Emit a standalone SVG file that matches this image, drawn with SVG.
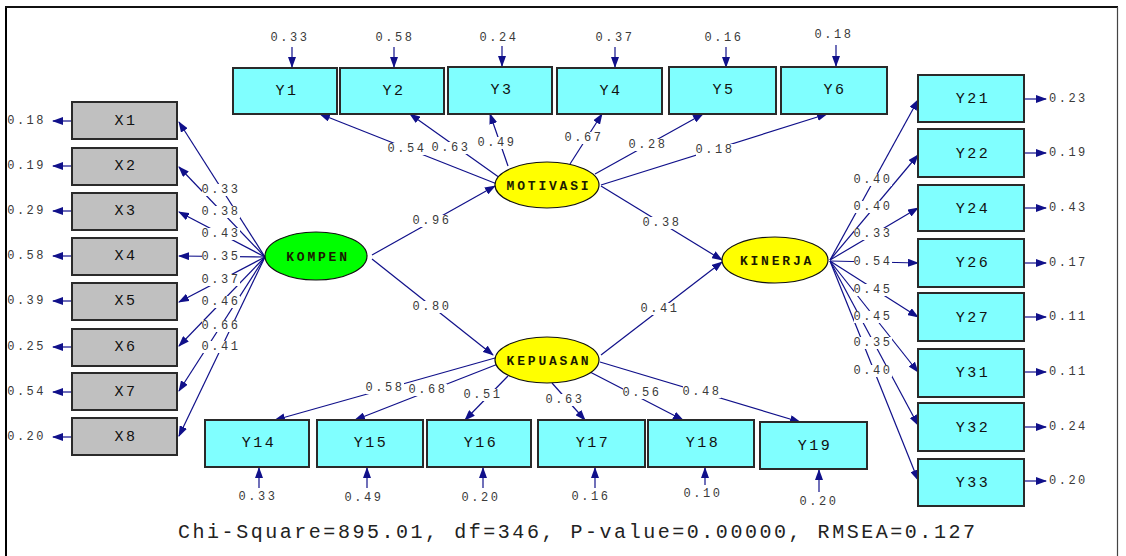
<svg xmlns="http://www.w3.org/2000/svg" width="1126" height="556" viewBox="0 0 1126 556">
<style>
.bx{fill:#80ffff;stroke:#2a2a2a;stroke-width:2}
.bg{fill:#c0c0c0;stroke:#2a2a2a;stroke-width:2}
.lt{font-family:"Liberation Mono",monospace;font-size:15px;letter-spacing:2.5px;fill:#111;text-anchor:middle;dominant-baseline:central}
.el{stroke:#111;stroke-width:1.2}
.et{font-family:"Liberation Mono",monospace;font-size:13px;font-weight:bold;letter-spacing:2.8px;fill:#1a1a00;text-anchor:middle;dominant-baseline:central}
.ln{stroke:#10108a;stroke-width:1.2;fill:none;marker-end:url(#ah)}
.nm{font-family:"Liberation Mono",monospace;font-size:12px;letter-spacing:2.5px;fill:#3a3a3a;text-anchor:middle;dominant-baseline:central}
.hb{fill:#fff}
.ev{font-family:"Liberation Mono",monospace;font-size:12px;letter-spacing:2.5px;fill:#3a3a3a;dominant-baseline:central}
</style>
<defs>
<marker id="ah" markerWidth="11" markerHeight="8" refX="10" refY="4" orient="auto" markerUnits="userSpaceOnUse"><path d="M0,0 L11,4 L0,8 z" fill="#10108a"/></marker>
</defs>
<rect width="1126" height="556" fill="#fff"/>

<g id="connectors">
<line class="ln" x1="265" y1="257" x2="179" y2="122"/>
<line class="ln" x1="265" y1="257" x2="179" y2="167"/>
<line class="ln" x1="265" y1="257" x2="179" y2="212"/>
<line class="ln" x1="265" y1="257" x2="179" y2="256"/>
<line class="ln" x1="265" y1="257" x2="179" y2="302"/>
<line class="ln" x1="265" y1="257" x2="179" y2="346"/>
<line class="ln" x1="265" y1="257" x2="179" y2="391"/>
<line class="ln" x1="265" y1="257" x2="179" y2="436"/>
<line class="ln" x1="372" y1="255" x2="495" y2="186"/>
<line class="ln" x1="372" y1="259" x2="493" y2="355"/>
<line class="ln" x1="601" y1="186" x2="722" y2="260"/>
<line class="ln" x1="601" y1="355" x2="722" y2="262"/>
<line class="ln" x1="497" y1="184" x2="320" y2="114"/>
<line class="ln" x1="500" y1="178" x2="410" y2="114"/>
<line class="ln" x1="508" y1="166" x2="490" y2="114"/>
<line class="ln" x1="570" y1="164" x2="602" y2="114"/>
<line class="ln" x1="595" y1="174" x2="703" y2="114"/>
<line class="ln" x1="601" y1="185" x2="827" y2="114"/>
<line class="ln" x1="495" y1="358" x2="275" y2="420"/>
<line class="ln" x1="498" y1="364" x2="355" y2="420"/>
<line class="ln" x1="508" y1="376" x2="465" y2="420"/>
<line class="ln" x1="552" y1="383" x2="585" y2="420"/>
<line class="ln" x1="590" y1="372" x2="683" y2="420"/>
<line class="ln" x1="600" y1="362" x2="800" y2="422"/>
<line class="ln" x1="830" y1="260" x2="918" y2="100"/>
<line class="ln" x1="830" y1="260" x2="918" y2="155"/>
<line class="ln" x1="830" y1="260" x2="918" y2="208"/>
<line class="ln" x1="830" y1="261" x2="918" y2="263"/>
<line class="ln" x1="830" y1="261" x2="918" y2="317"/>
<line class="ln" x1="830" y1="261" x2="918" y2="372"/>
<line class="ln" x1="830" y1="261" x2="918" y2="425"/>
<line class="ln" x1="830" y1="261" x2="918" y2="480"/>
<line class="ln" x1="72" y1="121" x2="53" y2="121"/>
<line class="ln" x1="72" y1="166" x2="53" y2="166"/>
<line class="ln" x1="72" y1="211" x2="53" y2="211"/>
<line class="ln" x1="72" y1="256" x2="53" y2="256"/>
<line class="ln" x1="72" y1="301" x2="53" y2="301"/>
<line class="ln" x1="72" y1="347" x2="53" y2="347"/>
<line class="ln" x1="72" y1="392" x2="53" y2="392"/>
<line class="ln" x1="72" y1="437" x2="53" y2="437"/>
<line class="ln" x1="292" y1="47" x2="292" y2="67"/>
<line class="ln" x1="394" y1="47" x2="394" y2="67"/>
<line class="ln" x1="502" y1="46" x2="502" y2="66"/>
<line class="ln" x1="615" y1="47" x2="615" y2="67"/>
<line class="ln" x1="726" y1="47" x2="726" y2="67"/>
<line class="ln" x1="836" y1="45" x2="836" y2="66"/>
<line class="ln" x1="259" y1="488" x2="259" y2="468"/>
<line class="ln" x1="367" y1="488" x2="367" y2="468"/>
<line class="ln" x1="483" y1="488" x2="483" y2="468"/>
<line class="ln" x1="595" y1="488" x2="595" y2="468"/>
<line class="ln" x1="705" y1="485" x2="705" y2="468"/>
<line class="ln" x1="819" y1="492" x2="819" y2="470"/>
<line class="ln" x1="1024" y1="99" x2="1046" y2="99"/>
<line class="ln" x1="1024" y1="153" x2="1046" y2="153"/>
<line class="ln" x1="1024" y1="208" x2="1046" y2="208"/>
<line class="ln" x1="1024" y1="263" x2="1046" y2="263"/>
<line class="ln" x1="1024" y1="317" x2="1046" y2="317"/>
<line class="ln" x1="1024" y1="372" x2="1046" y2="372"/>
<line class="ln" x1="1024" y1="427" x2="1046" y2="427"/>
<line class="ln" x1="1024" y1="481" x2="1046" y2="481"/>
</g>

<g id="loadings">
<rect class="hb" x="202" y="184" width="38" height="12"/><text class="nm" x="221" y="190">0.33</text>
<rect class="hb" x="202" y="206" width="38" height="12"/><text class="nm" x="221" y="212">0.38</text>
<rect class="hb" x="202" y="228" width="38" height="12"/><text class="nm" x="221" y="234">0.43</text>
<rect class="hb" x="202" y="251" width="38" height="12"/><text class="nm" x="221" y="257">0.35</text>
<rect class="hb" x="202" y="274" width="38" height="12"/><text class="nm" x="221" y="280">0.37</text>
<rect class="hb" x="202" y="296" width="38" height="12"/><text class="nm" x="221" y="302">0.46</text>
<rect class="hb" x="202" y="320" width="38" height="12"/><text class="nm" x="221" y="326">0.66</text>
<rect class="hb" x="202" y="341" width="38" height="12"/><text class="nm" x="221" y="347">0.41</text>
<rect class="hb" x="413" y="215" width="38" height="12"/><text class="nm" x="432" y="221">0.96</text>
<rect class="hb" x="413" y="301" width="38" height="12"/><text class="nm" x="432" y="307">0.80</text>
<rect class="hb" x="643" y="217" width="38" height="12"/><text class="nm" x="662" y="223">0.38</text>
<rect class="hb" x="641" y="303" width="38" height="12"/><text class="nm" x="660" y="309">0.41</text>
<rect class="hb" x="388" y="143" width="38" height="12"/><text class="nm" x="407" y="149">0.54</text>
<rect class="hb" x="432" y="142" width="38" height="12"/><text class="nm" x="451" y="148">0.63</text>
<rect class="hb" x="478" y="137" width="38" height="12"/><text class="nm" x="497" y="143">0.49</text>
<rect class="hb" x="565" y="132" width="38" height="12"/><text class="nm" x="584" y="138">0.67</text>
<rect class="hb" x="629" y="139" width="38" height="12"/><text class="nm" x="648" y="145">0.28</text>
<rect class="hb" x="696" y="144" width="38" height="12"/><text class="nm" x="715" y="150">0.18</text>
<rect class="hb" x="366" y="382" width="38" height="12"/><text class="nm" x="385" y="388">0.58</text>
<rect class="hb" x="409" y="384" width="38" height="12"/><text class="nm" x="428" y="390">0.68</text>
<rect class="hb" x="464" y="389" width="38" height="12"/><text class="nm" x="483" y="395">0.51</text>
<rect class="hb" x="546" y="394" width="38" height="12"/><text class="nm" x="565" y="400">0.63</text>
<rect class="hb" x="623" y="387" width="38" height="12"/><text class="nm" x="642" y="393">0.56</text>
<rect class="hb" x="683" y="386" width="38" height="12"/><text class="nm" x="702" y="392">0.48</text>
<rect class="hb" x="854" y="174" width="38" height="12"/><text class="nm" x="873" y="180">0.40</text>
<rect class="hb" x="854" y="201" width="38" height="12"/><text class="nm" x="873" y="207">0.40</text>
<rect class="hb" x="854" y="228" width="38" height="12"/><text class="nm" x="873" y="234">0.33</text>
<rect class="hb" x="854" y="256" width="38" height="12"/><text class="nm" x="873" y="262">0.54</text>
<rect class="hb" x="854" y="284" width="38" height="12"/><text class="nm" x="873" y="290">0.45</text>
<rect class="hb" x="854" y="311" width="38" height="12"/><text class="nm" x="873" y="317">0.45</text>
<rect class="hb" x="854" y="337" width="38" height="12"/><text class="nm" x="873" y="343">0.35</text>
<rect class="hb" x="854" y="365" width="38" height="12"/><text class="nm" x="873" y="371">0.40</text>
</g>

<g id="errors">
<text class="ev" x="46" y="121" text-anchor="end">0.18</text>
<text class="ev" x="46" y="166" text-anchor="end">0.19</text>
<text class="ev" x="46" y="211" text-anchor="end">0.29</text>
<text class="ev" x="46" y="256" text-anchor="end">0.58</text>
<text class="ev" x="46" y="301" text-anchor="end">0.39</text>
<text class="ev" x="46" y="347" text-anchor="end">0.25</text>
<text class="ev" x="46" y="392" text-anchor="end">0.54</text>
<text class="ev" x="46" y="437" text-anchor="end">0.20</text>
<text class="ev" x="290" y="38" text-anchor="middle">0.33</text>
<text class="ev" x="395" y="38" text-anchor="middle">0.58</text>
<text class="ev" x="499" y="38" text-anchor="middle">0.24</text>
<text class="ev" x="615" y="38" text-anchor="middle">0.37</text>
<text class="ev" x="724" y="38" text-anchor="middle">0.16</text>
<text class="ev" x="834" y="35" text-anchor="middle">0.18</text>
<text class="ev" x="258" y="497" text-anchor="middle">0.33</text>
<text class="ev" x="364" y="498" text-anchor="middle">0.49</text>
<text class="ev" x="481" y="498" text-anchor="middle">0.20</text>
<text class="ev" x="591" y="497" text-anchor="middle">0.16</text>
<text class="ev" x="703" y="494" text-anchor="middle">0.10</text>
<text class="ev" x="819" y="502" text-anchor="middle">0.20</text>
<text class="ev" x="1049" y="99">0.23</text>
<text class="ev" x="1049" y="153">0.19</text>
<text class="ev" x="1049" y="208">0.43</text>
<text class="ev" x="1049" y="263">0.17</text>
<text class="ev" x="1049" y="317">0.11</text>
<text class="ev" x="1049" y="372">0.11</text>
<text class="ev" x="1049" y="427">0.24</text>
<text class="ev" x="1049" y="481">0.20</text>
</g>

<g id="X1"><rect class="bg" x="72" y="102" width="105" height="37"/><text class="lt" x="126" y="121">X1</text></g>
<g id="X2"><rect class="bg" x="72" y="148" width="105" height="37"/><text class="lt" x="126" y="166">X2</text></g>
<g id="X3"><rect class="bg" x="72" y="193" width="105" height="37"/><text class="lt" x="126" y="211">X3</text></g>
<g id="X4"><rect class="bg" x="72" y="238" width="105" height="37"/><text class="lt" x="126" y="256">X4</text></g>
<g id="X5"><rect class="bg" x="72" y="283" width="105" height="37"/><text class="lt" x="126" y="301">X5</text></g>
<g id="X6"><rect class="bg" x="72" y="329" width="105" height="37"/><text class="lt" x="126" y="347">X6</text></g>
<g id="X7"><rect class="bg" x="72" y="373" width="105" height="37"/><text class="lt" x="126" y="392">X7</text></g>
<g id="X8"><rect class="bg" x="72" y="418" width="105" height="37"/><text class="lt" x="126" y="437">X8</text></g>

<g id="Y1"><rect class="bx" x="233" y="68" width="104" height="46"/><text class="lt" x="287" y="91">Y1</text></g>
<g id="Y2"><rect class="bx" x="340" y="68" width="104" height="46"/><text class="lt" x="394" y="91">Y2</text></g>
<g id="Y3"><rect class="bx" x="448" y="67" width="104" height="47"/><text class="lt" x="502" y="90">Y3</text></g>
<g id="Y4"><rect class="bx" x="557" y="68" width="105" height="46"/><text class="lt" x="611" y="91">Y4</text></g>
<g id="Y5"><rect class="bx" x="669" y="67" width="107" height="47"/><text class="lt" x="724" y="90">Y5</text></g>
<g id="Y6"><rect class="bx" x="781" y="67" width="106" height="47"/><text class="lt" x="835" y="90">Y6</text></g>

<g id="Y14"><rect class="bx" x="205" y="420" width="104" height="47"/><text class="lt" x="259" y="443">Y14</text></g>
<g id="Y15"><rect class="bx" x="317" y="420" width="106" height="47"/><text class="lt" x="371" y="443">Y15</text></g>
<g id="Y16"><rect class="bx" x="427" y="420" width="104" height="47"/><text class="lt" x="481" y="443">Y16</text></g>
<g id="Y17"><rect class="bx" x="538" y="420" width="107" height="47"/><text class="lt" x="593" y="443">Y17</text></g>
<g id="Y18"><rect class="bx" x="648" y="420" width="106" height="47"/><text class="lt" x="703" y="443">Y18</text></g>
<g id="Y19"><rect class="bx" x="760" y="422" width="107" height="47"/><text class="lt" x="815" y="446">Y19</text></g>

<g id="Y21"><rect class="bx" x="918" y="75" width="106" height="47"/><text class="lt" x="973" y="99">Y21</text></g>
<g id="Y22"><rect class="bx" x="918" y="129" width="106" height="48"/><text class="lt" x="973" y="154">Y22</text></g>
<g id="Y24"><rect class="bx" x="918" y="185" width="106" height="46"/><text class="lt" x="973" y="209">Y24</text></g>
<g id="Y26"><rect class="bx" x="918" y="239" width="106" height="48"/><text class="lt" x="973" y="263">Y26</text></g>
<g id="Y27"><rect class="bx" x="918" y="293" width="106" height="48"/><text class="lt" x="973" y="318">Y27</text></g>
<g id="Y31"><rect class="bx" x="918" y="349" width="106" height="48"/><text class="lt" x="973" y="373">Y31</text></g>
<g id="Y32"><rect class="bx" x="918" y="403" width="106" height="48"/><text class="lt" x="973" y="428">Y32</text></g>
<g id="Y33"><rect class="bx" x="918" y="459" width="106" height="47"/><text class="lt" x="973" y="483">Y33</text></g>

<g id="KOMPEN"><ellipse class="el" cx="316" cy="256" rx="51" ry="24" fill="#00ff00"/><text class="et" x="318" y="257">KOMPEN</text></g>
<g id="MOTIVASI"><ellipse class="el" cx="547" cy="185" rx="52" ry="23" fill="#ffff00"/><text class="et" x="549" y="186">MOTIVASI</text></g>
<g id="KEPUASAN"><ellipse class="el" cx="547" cy="360" rx="52" ry="23" fill="#ffff00"/><text class="et" x="549" y="361">KEPUASAN</text></g>
<g id="KINERJA"><ellipse class="el" cx="775" cy="260" rx="53" ry="23" fill="#ffff00"/><text class="et" x="777" y="261">KINERJA</text></g>

<text x="178" y="532" font-family="Liberation Mono, monospace" font-size="20" fill="#222" textLength="797" lengthAdjust="spacing" dominant-baseline="central">Chi-Square=895.01, df=346, P-value=0.00000, RMSEA=0.127</text>

<g id="frame">
<rect x="0" y="0" width="6" height="556" fill="#fff"/>
<line x1="6" y1="7" x2="6" y2="556" stroke="#000" stroke-width="2"/>
<line x1="5" y1="7" x2="1118" y2="7" stroke="#111" stroke-width="2"/>
<line x1="1117.5" y1="7" x2="1117.5" y2="556" stroke="#444" stroke-width="1.2"/>
</g>
</svg>
